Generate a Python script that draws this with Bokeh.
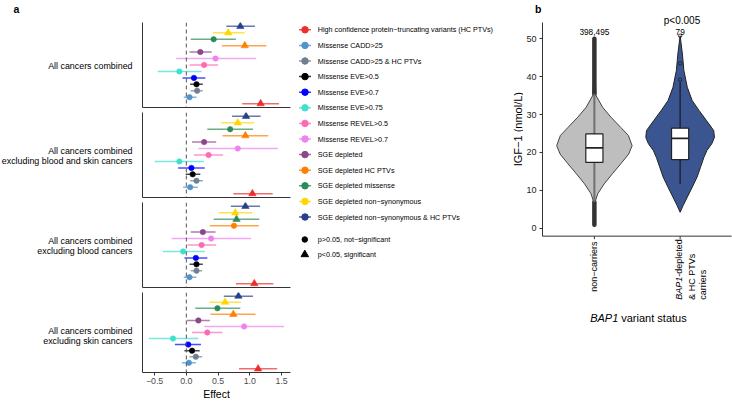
import numpy as np
from bokeh.plotting import figure
from bokeh.models import Range1d, FixedTicker, ColumnDataSource, Span
from bokeh.layouts import row, column
from bokeh.embed import file_html
from bokeh.resources import INLINE
from bokeh.core.properties import value

FONT = "Liberation Sans"

# ---------------- data: panel a (forest plot) ----------------
variants = [
    "High confidence protein\u2212truncating variants (HC PTVs)",
    "Missense CADD>25",
    "Missense CADD>25 & HC PTVs",
    "Missense EVE>0.5",
    "Missense EVE>0.7",
    "Missense EVE>0.75",
    "Missense REVEL>0.5",
    "Missense REVEL>0.7",
    "SGE depleted",
    "SGE depleted HC PTVs",
    "SGE depleted missense",
    "SGE depleted non\u2212synonymous",
    "SGE depleted non\u2212synonymous & HC PTVs",
]
variant_colors = ["#EE2C2C", "#4F94CD", "#708090", "#000000", "#0000FF", "#40E0D0",
                  "#FF69B4", "#EE82EE", "#8B4789", "#FF7F00", "#2E8B57", "#FFD700", "#27408B"]
facet_names = [
    "All cancers combined",
    "All cancers combined\nexcluding blood and skin cancers",
    "All cancers combined\nexcluding blood cancers",
    "All cancers combined\nexcluding skin cancers",
]
shape_labels = ["p>0.05, not\u2212significant", "p<0.05, significant"]

all_est = [1.17, 0.05, 0.17, 0.16, 0.12, -0.11, 0.28, 0.46, 0.22, 0.92, 0.43, 0.66, 0.85]
all_lo  = [0.88, -0.04, 0.07, 0.06, -0.06, -0.45, 0.05, -0.16, 0.05, 0.56, 0.07, 0.42, 0.63]
all_hi  = [1.46, 0.16, 0.26, 0.26, 0.30, 0.24, 0.50, 1.10, 0.40, 1.26, 0.78, 0.92, 1.08]
all_sig = [1, 0, 0, 0, 0, 0, 0, 0, 0, 1, 0, 1, 1]

exbs_est = [1.04, 0.06, 0.16, 0.10, 0.08, -0.11, 0.35, 0.81, 0.28, 0.93, 0.69, 0.81, 0.94]
exbs_lo  = [0.74, -0.05, 0.06, -0.01, -0.13, -0.50, 0.12, 0.19, 0.09, 0.57, 0.33, 0.55, 0.72]
exbs_hi  = [1.36, 0.18, 0.26, 0.22, 0.29, 0.28, 0.58, 1.44, 0.47, 1.29, 1.05, 1.07, 1.17]
exbs_sig = [1, 0, 0, 0, 0, 0, 0, 0, 0, 1, 0, 1, 1]

exb_est = [1.07, 0.05, 0.16, 0.16, 0.15, -0.05, 0.24, 0.39, 0.26, 0.75, 0.79, 0.77, 0.93]
exb_lo  = [0.78, -0.04, 0.07, 0.05, -0.03, -0.37, 0.02, -0.23, 0.07, 0.37, 0.43, 0.51, 0.70]
exb_hi  = [1.37, 0.16, 0.25, 0.26, 0.33, 0.29, 0.47, 1.02, 0.46, 1.14, 1.15, 1.04, 1.16]
exb_sig = [1, 0, 0, 0, 0, 0, 0, 0, 0, 0, 1, 1, 1]

exs_est = [1.13, 0.04, 0.15, 0.09, 0.03, -0.21, 0.33, 0.91, 0.19, 0.74, 0.49, 0.61, 0.82]
exs_lo  = [0.83, -0.07, 0.05, -0.03, -0.18, -0.59, 0.09, 0.28, 0.01, 0.38, 0.14, 0.36, 0.59]
exs_hi  = [1.43, 0.15, 0.25, 0.21, 0.23, 0.19, 0.57, 1.54, 0.37, 1.09, 0.85, 0.86, 1.05]
exs_sig = [1, 0, 0, 0, 0, 0, 0, 0, 0, 1, 0, 1, 1]

effect_ticks = [-0.5, 0.0, 0.5, 1.0, 1.5]
effect_tick_labels = ["\u22120.5", "0.0", "0.5", "1.0", "1.5"]

# ---------------- data: panel b (violin) ----------------
group_counts = ["398,495", "79"]
noncarrier_levels = [50.0, 45.0, 40.0, 35.0, 31.9, 29.3, 26.6, 24.5, 21.8, 19.6, 17.0, 14.4, 11.7, 9.1, 7.3, 4.0, 0.3]
noncarrier_density = [0.0, 0.01, 0.02, 0.045, 0.22, 0.44, 0.70, 0.90, 1.00, 0.91, 0.70, 0.48, 0.26, 0.09, 0.03, 0.01, 0.0]
carrier_levels = [50.8, 46.0, 41.6, 37.2, 33.7, 31.1, 28.4, 25.8, 24.0, 22.3, 20.5, 18.7, 16.1, 13.5, 10.8, 8.2, 6.0, 4.2]
carrier_density = [0.0, 0.06, 0.10, 0.19, 0.32, 0.50, 0.70, 0.89, 0.91, 0.84, 0.71, 0.63, 0.54, 0.45, 0.32, 0.19, 0.08, 0.0]
# lower whisker, Q1, median, Q3, upper whisker
noncarrier_box = [6.9, 17.4, 21.2, 24.9, 35.5]
carrier_box = [11.7, 18.1, 23.7, 26.4, 38.5]
noncarrier_outlier_bands_lo = [35.5, 0.9]
noncarrier_outlier_bands_hi = [50.0, 6.9]
carrier_outliers = [50.8, 43.5, 39.2]
igf_ticks = [0, 10, 20, 30, 40, 50]

# ---------------- layout constants (page pixels) ----------------
PAGE_H = 402
TOP = 14            # shared top border of the row-level plots

# panel a
AX0, AX1 = -0.69, 1.64
AY0, AY1 = 0.4, 13.6
STRIP_W = 138
A_LB, A_FW, A_RB, A_FH = 4, 148, 8, 85
F_TOP = 22
F_GAP = 5
F_BOTTOM = 25
LINE_STEP = 9.6

# panel b
B_LEFT = 523
B_LB = 16
B_FL = B_LEFT + B_LB
B_W = 732 - B_LEFT
B_XPX = 87.1                 # px per category unit
B_X1_PX = 591.7              # page x of category 1
B_YPX = 3.788                # px per nmol/L
B_Y0_PX = 227.7              # page y of IGF-1 = 0
B_AXIS = (-2.1, 54.4)
B_XPANEL = (0.4, 2.6)


def bx(px):
    return 1 + (px - B_X1_PX) / B_XPX


def by(py):
    return (B_Y0_PX - py) / B_YPX


def style_axis(ax):
    ax.axis_line_color = "#333333"
    ax.axis_line_width = 1
    ax.minor_tick_line_color = None
    ax.major_tick_in = 0
    ax.major_tick_line_color = "#333333"


# ---------------- facet-name strip ----------------
strip = figure(width=STRIP_W, height=PAGE_H, x_range=Range1d(0, STRIP_W),
               y_range=Range1d(PAGE_H, TOP), output_backend="svg", toolbar_location=None,
               x_axis_location=None, y_axis_location=None,
               min_border_left=0, min_border_right=0, min_border_top=TOP, min_border_bottom=0,
               title="a")
strip.grid.visible = False
strip.outline_line_color = None
strip.title.align = "left"
strip.title.offset = 13
strip.title.standoff = 0
strip.title.text_font = FONT
strip.title.text_font_size = "10.5px"
strip.title.text_font_style = "bold"
strip.title.text_color = "#000000"

name_lines, name_y = [], []
for i, name in enumerate(facet_names):
    center = F_TOP + i * (A_FH + F_GAP) + A_FH / 2 + 1
    parts = name.split("\n")
    for j, part in enumerate(parts):
        name_lines.append(part)
        name_y.append(center + (j - (len(parts) - 1) / 2) * LINE_STEP)
strip.text(x=[132] * len(name_lines), y=name_y, text=name_lines,
           text_font=value(FONT), text_font_size=value("8.9px"), text_align="right",
           text_baseline="middle", text_color="#000000")

# ---------------- facets ----------------
shared_x = Range1d(AX0, AX1)
facet_data = [
    (all_est, all_lo, all_hi, all_sig),
    (exbs_est, exbs_lo, exbs_hi, exbs_sig),
    (exb_est, exb_lo, exb_hi, exb_sig),
    (exs_est, exs_lo, exs_hi, exs_sig),
]
facets = []
for i, (est, lo, hi, sig) in enumerate(facet_data):
    last = i == len(facet_data) - 1
    top = F_TOP if i == 0 else 0
    bottom = F_BOTTOM if last else F_GAP
    p = figure(width=A_LB + A_FW + A_RB, height=top + A_FH + bottom,
               x_range=shared_x, y_range=Range1d(AY0, AY1),
               output_backend="svg", toolbar_location=None,
               min_border_left=A_LB, min_border_right=A_RB,
               min_border_top=top, min_border_bottom=bottom)
    p.grid.visible = False
    p.outline_line_color = None
    style_axis(p.xaxis[0])
    style_axis(p.yaxis[0])
    p.yaxis.ticker = FixedTicker(ticks=[])
    p.yaxis.major_label_standoff = 0
    p.yaxis.major_tick_out = 0
    if last:
        p.xaxis.ticker = FixedTicker(ticks=effect_ticks)
        p.xaxis.major_label_overrides = {t: l for t, l in zip(effect_ticks, effect_tick_labels)}
        p.xaxis.major_tick_out = 3
        p.xaxis.major_label_text_font = FONT
        p.xaxis.major_label_text_font_size = "8.8px"
        p.xaxis.major_label_text_color = "#4D4D4D"
        p.xaxis.major_label_standoff = 2
        p.xaxis.axis_label = "Effect"
        p.xaxis.axis_label_text_font = FONT
        p.xaxis.axis_label_text_font_size = "10.5px"
        p.xaxis.axis_label_text_font_style = "normal"
        p.xaxis.axis_label_text_color = "#000000"
        p.xaxis.axis_label_standoff = 1
    else:
        p.xaxis.ticker = FixedTicker(ticks=[])
        p.xaxis.major_tick_out = 0
        p.xaxis.major_label_standoff = 0

    p.add_layout(Span(location=0, dimension="height", line_color="#555555",
                      line_width=1, line_dash="4 3"))
    src = ColumnDataSource(dict(
        y=[k + 1 for k in range(len(variants))], est=est, lo=lo, hi=hi, color=variant_colors,
        marker=["triangle" if s else "circle" for s in sig],
        size=[7.5 if s else 5.5 for s in sig],
    ))
    p.segment(x0="lo", y0="y", x1="hi", y1="y", source=src, line_color="color",
              line_alpha=0.7, line_width=1.5)
    p.scatter(x="est", y="y", source=src, marker="marker", size="size",
              fill_color="color", line_color="color", line_width=0.5)
    facets.append(p)

# ---------------- legend (+ y-axis title of panel b) ----------------
LG_X0 = STRIP_W + A_LB + A_FW + A_RB
LG_W = B_LEFT - LG_X0
lg = figure(width=LG_W, height=PAGE_H, x_range=Range1d(LG_X0, LG_X0 + LG_W),
            y_range=Range1d(PAGE_H, TOP), output_backend="svg", toolbar_location=None,
            x_axis_location=None, y_axis_location=None,
            min_border_left=0, min_border_right=0, min_border_top=TOP, min_border_bottom=0)
lg.grid.visible = False
lg.outline_line_color = None
n = len(variants)
leg_y = [29.3 + 15.6 * k for k in range(n)]
lsrc = ColumnDataSource(dict(y=leg_y, x0=[298.5] * n, x1=[310.5] * n, xc=[304.5] * n,
                             xt=[317.3] * n, color=variant_colors, text=variants))
lg.segment(x0="x0", y0="y", x1="x1", y1="y", source=lsrc, line_color="color",
           line_width=1.5, line_alpha=0.8)
lg.scatter(x="xc", y="y", source=lsrc, marker="circle", size=6.5,
           fill_color="color", line_color="color")
lg.text(x="xt", y="y", text="text", source=lsrc, text_font=value(FONT),
        text_font_size=value("7.2px"), text_baseline="middle", text_align="left",
        text_color="#000000")
ssrc = ColumnDataSource(dict(y=[239.0, 254.0], x=[304.3, 304.3], xt=[317.3, 317.3],
                             marker=["circle", "triangle"], size=[5.5, 7.5], text=shape_labels))
lg.scatter(x="x", y="y", source=ssrc, marker="marker", size="size",
           fill_color="#000000", line_color="#000000")
lg.text(x="xt", y="y", text="text", source=ssrc, text_font=value(FONT),
        text_font_size=value("7.2px"), text_baseline="middle", text_align="left",
        text_color="#000000")
# y-axis title of panel b, centred on that axis
lg.text(x=[517.6], y=[B_Y0_PX - (B_AXIS[0] + B_AXIS[1]) / 2 * B_YPX], text=["IGF\u22121 (nmol/L)"],
        angle=np.pi / 2, text_font=value(FONT), text_font_size=value("11px"),
        text_align="center", text_baseline="middle", text_color="#000000")

# ---------------- panel b ----------------
pb = figure(width=B_W, height=PAGE_H,
            x_range=Range1d(bx(B_FL), bx(732)), y_range=Range1d(by(PAGE_H), by(TOP)),
            output_backend="svg", toolbar_location=None, x_axis_location=None,
            min_border_left=B_LB, min_border_right=0, min_border_top=TOP, min_border_bottom=0,
            title="b")
pb.grid.visible = False
pb.outline_line_color = None
pb.title.align = "left"
pb.title.offset = 531.5 - B_FL
pb.title.standoff = 0
pb.title.text_font = FONT
pb.title.text_font_size = "10.5px"
pb.title.text_font_style = "bold"
pb.title.text_color = "#000000"
style_axis(pb.yaxis[0])
pb.yaxis.bounds = B_AXIS
pb.yaxis.major_tick_out = 3
pb.yaxis.ticker = FixedTicker(ticks=igf_ticks)
pb.yaxis.major_label_text_font = FONT
pb.yaxis.major_label_text_font_size = "9px"
pb.yaxis.major_label_text_color = "#222222"
pb.yaxis.major_label_standoff = 3

# x axis line and ticks of panel b
pb.segment(x0=[B_XPANEL[0]], y0=[B_AXIS[0]], x1=[B_XPANEL[1]], y1=[B_AXIS[0]],
           line_color="#333333", line_width=1)
pb.segment(x0=[1, 2], y0=[B_AXIS[0]] * 2, x1=[1, 2], y1=[B_AXIS[0] - 3 / B_YPX] * 2,
           line_color="#333333", line_width=1)

VW = 0.44
violins = [
    (1, noncarrier_levels, noncarrier_density, "#BEBEBE", "#444444"),
    (2, carrier_levels, carrier_density, "#3B5591", "#222222"),
]
for c, lv, dn, fill, line in violins:
    w = np.array(dn) * VW
    lv = np.array(lv)
    pb.patch(np.concatenate([c - w, (c + w)[::-1]]), np.concatenate([lv, lv[::-1]]),
             fill_color=fill, line_color=line, line_width=1)

pb.segment(x0=[1, 1], y0=noncarrier_outlier_bands_lo, x1=[1, 1], y1=noncarrier_outlier_bands_hi,
           line_color="#333333", line_width=4.5, line_cap="round")

boxes = [(1, noncarrier_box, "#707070", 2.0), (2, carrier_box, "#1A1A1A", 1.2)]
for c, (wl, q1, med, q3, wh), wcol, wlw in boxes:
    pb.segment(x0=[c, c], y0=[q3, q1], x1=[c, c], y1=[wh, wl], line_color=wcol, line_width=wlw)
    pb.quad(left=[c - 0.1], right=[c + 0.1], bottom=[q1], top=[q3],
            fill_color="#FFFFFF", line_color="#222222", line_width=1.2)
    pb.segment(x0=[c - 0.1], y0=[med], x1=[c + 0.1], y1=[med], line_color="#222222", line_width=1.6)

pb.scatter(x=[2] * len(carrier_outliers), y=carrier_outliers, marker="circle", size=3.5,
           fill_alpha=0, line_color="#1A1A1A", line_width=0.8)

pb.text(x=[1, 2], y=[by(31)] * 2, text=group_counts, text_font=value(FONT),
        text_font_size=value("8.3px"), text_align="center", text_baseline="middle",
        text_color="#000000")


def btext(px, py, text, align="center", angle=0.0, size="9px", style="normal"):
    pb.text(x=[bx(px)], y=[by(py)], text=[text], text_align=align, text_baseline="middle",
            angle=angle, text_font=value(FONT), text_font_size=value(size),
            text_font_style=style, text_color="#000000")


btext(680.7, 20, "p<0.005", size="10px")
btext(591.7, 241, "non\u2212carriers", align="right", angle=np.pi / 2)
btext(677.7, 299.3, "BAP1", align="left", angle=np.pi / 2, style="italic")
btext(677.7, 276.3, "-depleted", align="left", angle=np.pi / 2)
btext(690.5, 299.3, "& HC PTVs", align="left", angle=np.pi / 2)
btext(701.7, 299.3, "carriers", align="left", angle=np.pi / 2)
btext(616, 317.3, "BAP1", align="right", size="11px", style="italic")
btext(619, 317.3, "variant status", align="left", size="11px")

layout = row(strip, column(*facets), lg, pb)
open("out.html", "w").write(file_html(layout, INLINE))
